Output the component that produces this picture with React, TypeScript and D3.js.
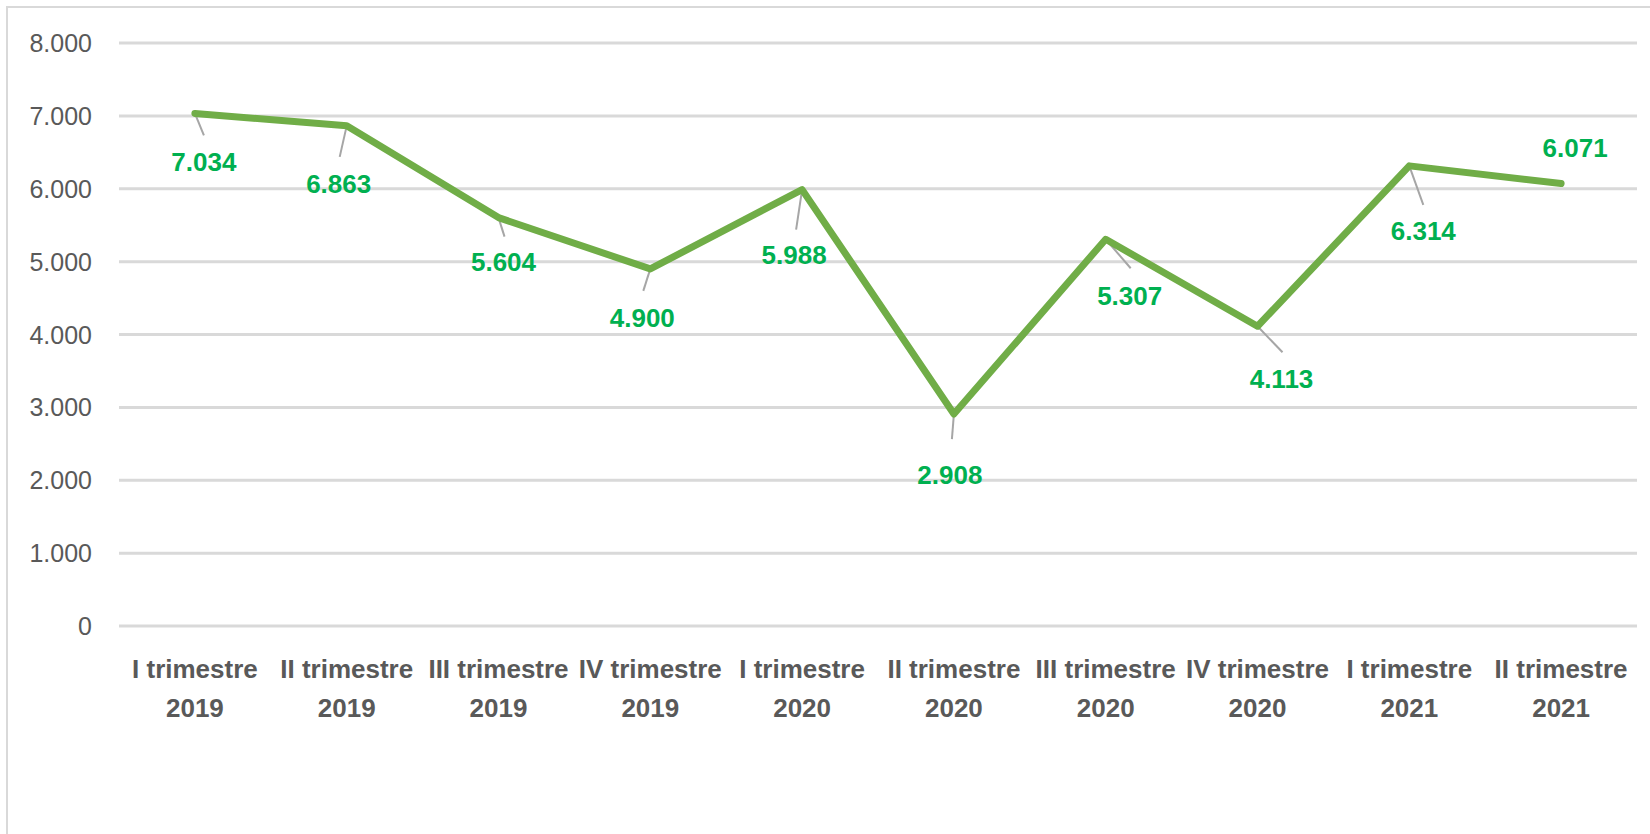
import React from "react";
import * as d3 from "d3";

const quarters = [
  "I trimestre", "II trimestre", "III trimestre", "IV trimestre",
  "I trimestre", "II trimestre", "III trimestre", "IV trimestre",
  "I trimestre", "II trimestre",
];
const years = ["2019", "2019", "2019", "2019", "2020", "2020", "2020", "2020", "2021", "2021"];
const values = [7034, 6863, 5604, 4900, 5988, 2908, 5307, 4113, 6314, 6071];
const yTicks = [0, 1000, 2000, 3000, 4000, 5000, 6000, 7000, 8000];

// layout of the data labels relative to their point (styling, not data)
const labelOffsets: [number, number][] = [
  [9, 48], [-8, 58], [5, 44], [-8, 49], [-8, 65],
  [-4, 60], [24, 56], [24, 52], [14, 65], [14, -36],
];
const leaderOffsets: ([number, number] | null)[] = [
  [9, 22], [-7, 31], [6, 19], [-7, 22], [-6, 40],
  [-2, 25], [25, 29], [25, 26], [14, 39], null,
];

const W = 1650;
const H = 834;
const plot = { left: 119, right: 1637, top: 43, bottom: 626 };

const locale = d3.formatLocale({ decimal: ",", thousands: ".", grouping: [3], currency: ["", "€"] });
const fmt = locale.format(",d");

export default function App() {
  const ids = values.map((_, i) => String(i));
  const x = d3.scaleBand<string>().domain(ids).range([plot.left, plot.right]).padding(0);
  const y = d3.scaleLinear().domain([0, 8000]).range([plot.bottom, plot.top]);
  const cx = (i: number) => (x(String(i)) as number) + x.bandwidth() / 2;

  const line = d3
    .line<number>()
    .x((_, i) => cx(i))
    .y((d) => y(d));

  const font = "'Liberation Sans', Arial, sans-serif";

  return (
    <svg
      width={W}
      height={H}
      style={{ position: "absolute", left: 0, top: 0, background: "#fff" }}
      fontFamily={font}
    >
      <rect x={7} y={7} width={W + 20} height={H + 20} fill="#fff" stroke="#D9D9D9" strokeWidth={2} />
      {yTicks.map((t) => (
        <g key={t}>
          <line x1={plot.left} x2={plot.right} y1={y(t)} y2={y(t)} stroke="#D9D9D9" strokeWidth={3} />
          <text x={92} y={y(t) + 9} textAnchor="end" fontSize={25} fill="#595959">
            {fmt(t)}
          </text>
        </g>
      ))}
      {values.map((_, i) => (
        <text key={i} x={cx(i)} textAnchor="middle" fontSize={26} fontWeight="bold" fill="#595959">
          <tspan x={cx(i)} y={678}>{quarters[i]}</tspan>
          <tspan x={cx(i)} y={717}>{years[i]}</tspan>
        </text>
      ))}
      {values.map((v, i) => {
        const lo = leaderOffsets[i];
        return lo ? (
          <line
            key={"l" + i}
            x1={cx(i)}
            y1={y(v)}
            x2={cx(i) + lo[0]}
            y2={y(v) + lo[1]}
            stroke="#A6A6A6"
            strokeWidth={2}
          />
        ) : null;
      })}
      <path d={line(values) || ""} fill="none" stroke="#70AD47" strokeWidth={7} strokeLinejoin="round" strokeLinecap="round" />
      {values.map((v, i) => (
        <text
          key={"d" + i}
          x={cx(i) + labelOffsets[i][0]}
          y={y(v) + labelOffsets[i][1] + 9.5}
          textAnchor="middle"
          fontSize={26}
          fontWeight="bold"
          fill="#00B050"
        >
          {fmt(v)}
        </text>
      ))}
    </svg>
  );
}
